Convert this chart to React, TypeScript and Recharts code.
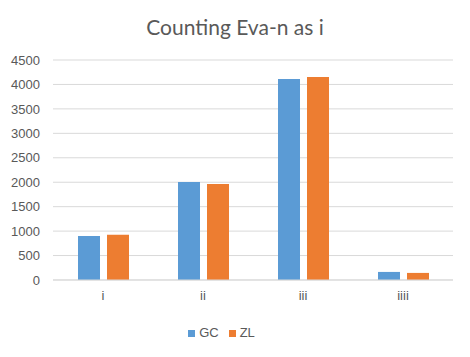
import React from "react";
import { BarChart, Bar, XAxis, YAxis, CartesianGrid, Legend } from "recharts";

const categories = ["i", "ii", "iii", "iiii"];
const gcValues = [900, 2005, 4110, 165];
const zlValues = [925, 1965, 4150, 145];
const yTicks = [0, 500, 1000, 1500, 2000, 2500, 3000, 3500, 4000, 4500];

const data = categories.map((c, i) => ({ name: c, GC: gcValues[i], ZL: zlValues[i] }));

const font = "'Liberation Sans', Arial, sans-serif";

export default function App() {
  return (
    <div style={{ position: "absolute", left: 0, top: 0, width: 470, height: 357, background: "#fff" }}>
      <div
        style={{
          position: "absolute",
          left: 0,
          top: 14,
          width: 470,
          textAlign: "center",
          fontFamily: "Lato, 'Open Sans', sans-serif",
          fontSize: 21,
          color: "#595959",
          lineHeight: "26px",
        }}
      >
        Counting Eva-n as i
      </div>
      <BarChart
        width={470}
        height={357}
        data={data}
        margin={{ top: 60, right: 17, left: 0, bottom: 0 }}
        barSize={22}
        barGap={7}
      >
        <CartesianGrid horizontal vertical={false} stroke="#d9d9d9" strokeWidth={1} />
        <XAxis
          dataKey="name"
          height={30}
          axisLine={{ stroke: "#d9d9d9" }}
          tickLine={false}
          tickSize={0}
          tickMargin={11}
          tick={{ fill: "#595959", fontSize: 13, fontFamily: font }}
        />
        <YAxis
          width={53}
          domain={[0, 4500]}
          ticks={yTicks}
          axisLine={false}
          tickLine={false}
          tickSize={0}
          tickMargin={13}
          interval={0}
          tick={{ fill: "#595959", fontSize: 13, fontFamily: font }}
        />
        <Legend
          verticalAlign="bottom"
          height={32}
          iconType="square"
          iconSize={7}
          wrapperStyle={{ paddingTop: 15, fontFamily: font, fontSize: 13, color: "#595959" }}
          formatter={(v) => <span style={{ color: "#595959" }}>{v}</span>}
        />
        <Bar dataKey="GC" fill="#5B9BD5" isAnimationActive={false} />
        <Bar dataKey="ZL" fill="#ED7D31" isAnimationActive={false} />
      </BarChart>
    </div>
  );
}
